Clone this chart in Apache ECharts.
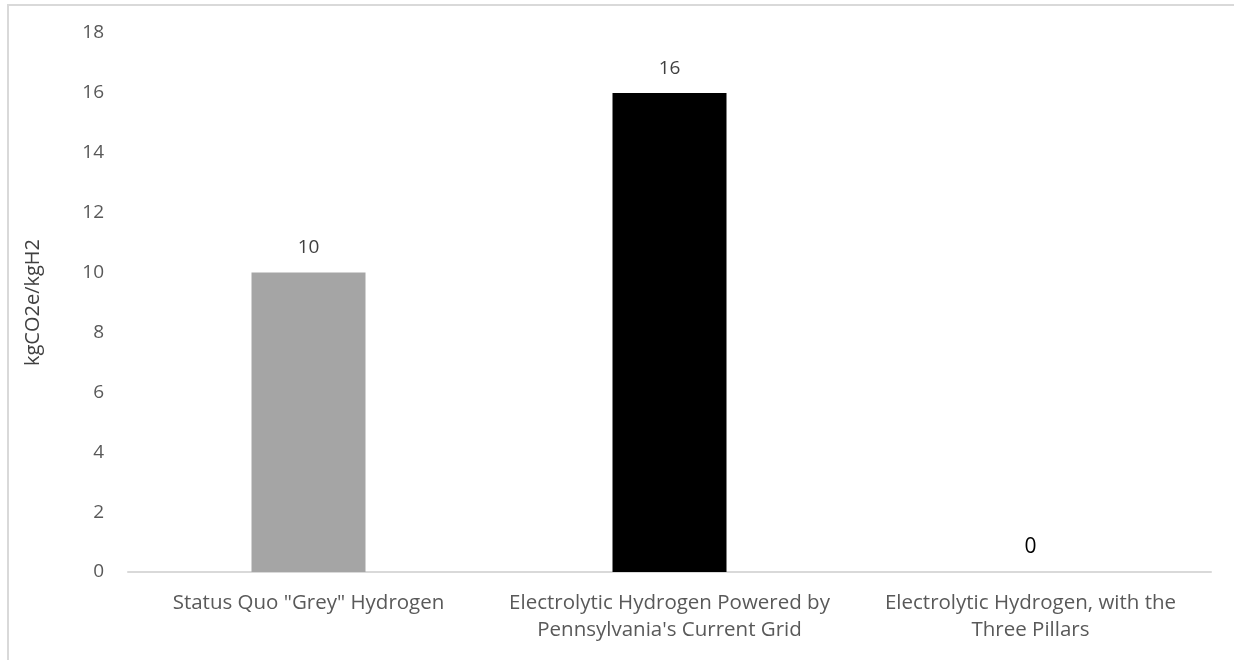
<!DOCTYPE html>
<html>
<head>
<meta charset="utf-8">
<script src="https://cdn.jsdelivr.net/npm/echarts@6/dist/echarts.min.js"></script>
<style>
  html, body { margin: 0; padding: 0; background: #fff; }
  #frame { position: absolute; left: 7px; top: 4px; width: 1240px; height: 680px; border: 2px solid #d9d9d9; box-sizing: border-box; }
  #chart { position: absolute; left: 0; top: 0; width: 1234px; height: 660px; }
</style>
</head>
<body>
<div id="frame"></div>
<div id="chart"></div>
<script>
const categories = [
  'Status Quo "Grey" Hydrogen',
  "Electrolytic Hydrogen Powered by\nPennsylvania's Current Grid",
  'Electrolytic Hydrogen, with the\nThree Pillars'
];
const values = [10, 16, 0];
const barColors = ['#a5a5a5', '#000000', '#4472c4'];
const yTicks = { min: 0, max: 18, interval: 2 };
const yAxisName = 'kgCO2e/kgH2';

const font = '"Open Sans", "Noto Sans", sans-serif';
const chart = echarts.init(document.getElementById('chart'));

const seriesData = values.map((v, i) => {
  const item = { value: v, itemStyle: { color: barColors[i] } };
  if (v === 0) {
    item.label = { color: '#000000', fontSize: 21, distance: 14 };
  }
  return item;
});

chart.setOption({
  animation: false,
  grid: { left: 128, right: 23, top: 33, bottom: 88 },
  xAxis: {
    type: 'category',
    data: categories,
    axisLine: { lineStyle: { color: '#d9d9d9', width: 2 } },
    axisTick: { show: false },
    axisLabel: {
      interval: 0,
      hideOverlap: false,
      color: '#595959',
      fontSize: 20.5,
      fontFamily: font,
      lineHeight: 27,
      margin: 18
    }
  },
  yAxis: {
    type: 'value',
    min: yTicks.min,
    max: yTicks.max,
    interval: yTicks.interval,
    name: yAxisName,
    nameLocation: 'middle',
    nameGap: 85,
    nameTextStyle: { color: '#404040', fontSize: 20, fontFamily: font },
    splitLine: { show: false },
    axisLine: { show: false },
    axisTick: { show: false },
    axisLabel: { color: '#595959', fontSize: 19, fontFamily: font, margin: 24 }
  },
  series: [{
    type: 'bar',
    data: seriesData,
    barWidth: 114,
    label: {
      show: true,
      position: 'top',
      distance: 15,
      color: '#404040',
      fontSize: 19,
      fontFamily: font
    }
  }]
});
</script>
</body>
</html>
